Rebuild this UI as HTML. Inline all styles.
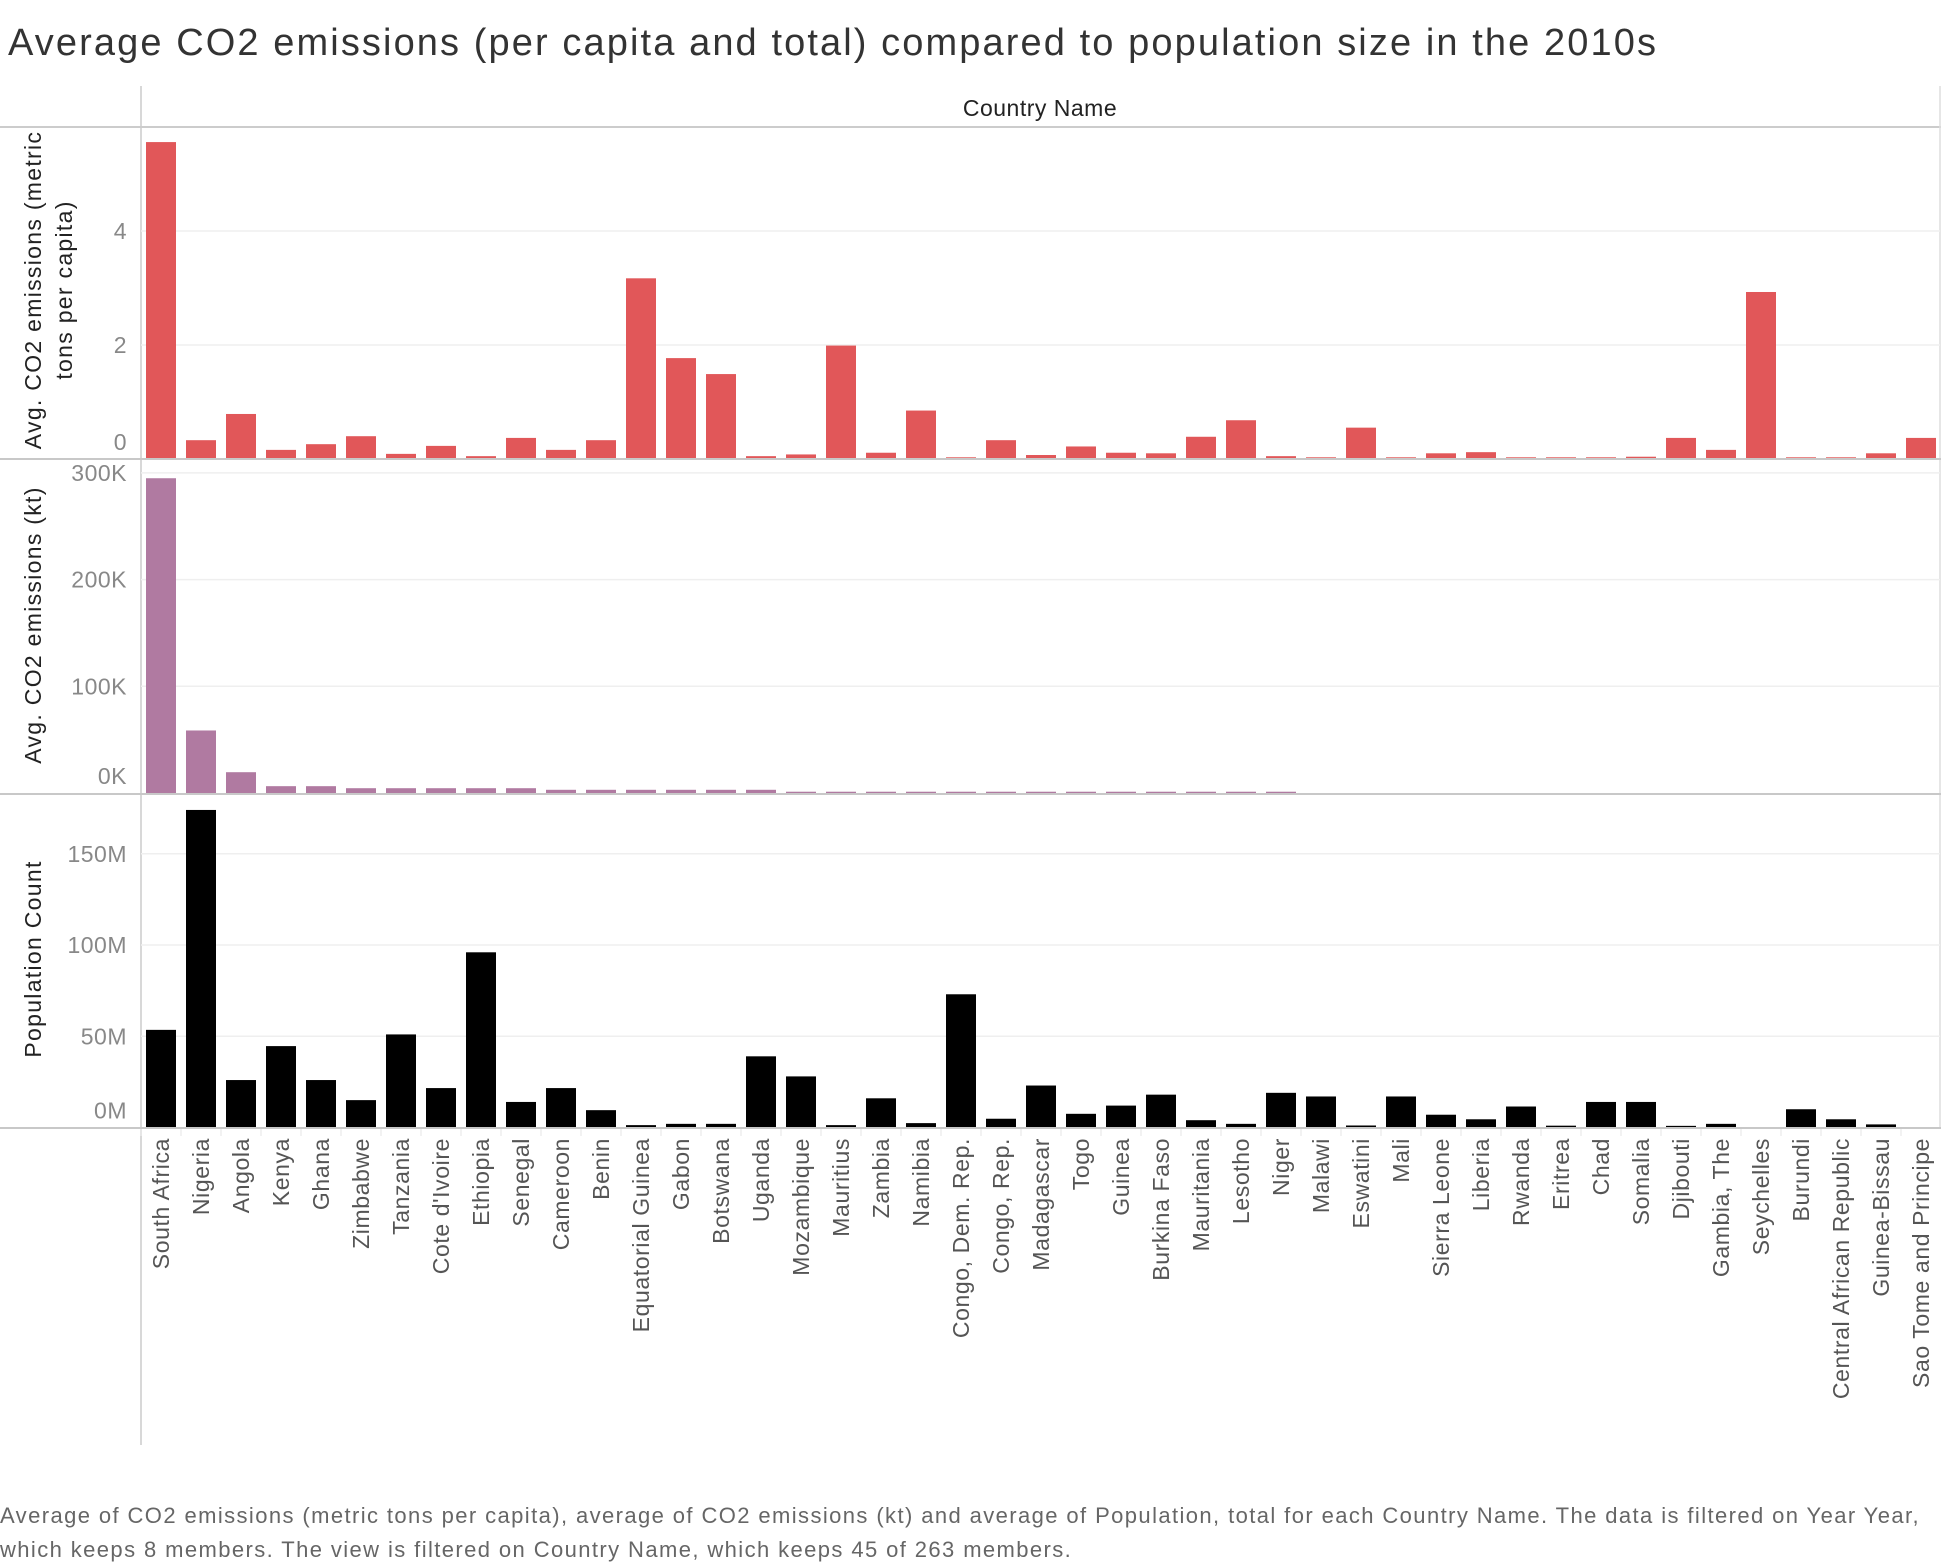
<!DOCTYPE html>
<html><head><meta charset="utf-8"><style>
html,body{margin:0;padding:0;background:#fff;width:1944px;height:1568px;overflow:hidden}
svg{display:block;font-family:"Liberation Sans",sans-serif}
</style></head><body>
<svg id="chart" width="1944" height="1568" viewBox="0 0 1944 1568">
<text x="8" y="55" font-size="38" letter-spacing="2.1" fill="#333">Average CO2 emissions (per capita and total) compared to population size in the 2010s</text>
<text x="1040" y="116" font-size="23" letter-spacing="0.5" fill="#222" text-anchor="middle">Country Name</text>
<line x1="141" y1="86" x2="141" y2="1445" stroke="#ccc" stroke-width="1.5"/>
<line x1="0" y1="127" x2="1941" y2="127" stroke="#ccc" stroke-width="2"/>
<line x1="1940" y1="86" x2="1940" y2="1128" stroke="#ddd" stroke-width="1.5"/>
<g id="grid"></g><g id="bars"></g><g id="axes"></g><g id="labels"></g>
<line x1="0" y1="459" x2="1941" y2="459" stroke="#c8c8c8" stroke-width="2"/>
<line x1="0" y1="794" x2="1941" y2="794" stroke="#c8c8c8" stroke-width="2"/>
<line x1="0" y1="1128" x2="1941" y2="1128" stroke="#c8c8c8" stroke-width="2"/>
<text transform="translate(41,290) rotate(-90)" font-size="23" letter-spacing="1.3" fill="#222" text-anchor="middle">Avg. CO2 emissions (metric</text>
<text transform="translate(72,290) rotate(-90)" font-size="23" letter-spacing="1.3" fill="#222" text-anchor="middle">tons per capita)</text>
<text transform="translate(41,625) rotate(-90)" font-size="23" letter-spacing="1.3" fill="#222" text-anchor="middle">Avg. CO2 emissions (kt)</text>
<text transform="translate(41,959) rotate(-90)" font-size="23" letter-spacing="1.3" fill="#222" text-anchor="middle">Population Count</text>
<text x="0" y="1523" font-size="22" letter-spacing="1.4" fill="#666">Average of CO2 emissions (metric tons per capita), average of CO2 emissions (kt) and average of Population, total for each Country Name. The data is filtered on Year Year,</text>
<text x="0" y="1557" font-size="22" letter-spacing="1.4" fill="#666">which keeps 8 members. The view is filtered on Country Name, which keeps 45 of 263 members.</text>
</svg>
<script>
const countries=["South Africa","Nigeria","Angola","Kenya","Ghana","Zimbabwe","Tanzania","Cote d'Ivoire","Ethiopia","Senegal","Cameroon","Benin","Equatorial Guinea","Gabon","Botswana","Uganda","Mozambique","Mauritius","Zambia","Namibia","Congo, Dem. Rep.","Congo, Rep.","Madagascar","Togo","Guinea","Burkina Faso","Mauritania","Lesotho","Niger","Malawi","Eswatini","Mali","Sierra Leone","Liberia","Rwanda","Eritrea","Chad","Somalia","Djibouti","Gambia, The","Seychelles","Burundi","Central African Republic","Guinea-Bissau","Sao Tome and Principe"];
const perCapita=[5.56,0.33,0.79,0.16,0.26,0.40,0.09,0.23,0.05,0.37,0.16,0.33,3.17,1.77,1.49,0.05,0.08,1.99,0.11,0.85,0.03,0.33,0.07,0.22,0.11,0.10,0.39,0.68,0.05,0.03,0.55,0.03,0.10,0.12,0.03,0.03,0.03,0.04,0.37,0.16,2.93,0.03,0.03,0.10,0.37];
const totalKt=[295,58.6,19.5,6.4,6.4,4.5,4.5,4.5,4.5,4.5,3,3,3,3,3,3,1.2,1.2,1.2,1.2,1.2,1.2,1.2,1.2,1.2,1.2,1.2,1.2,1.2,0,0,0,0,0,0,0,0,0,0,0,0,0,0,0,0];
const population=[53.5,174,26,44.6,26,15,51,21.6,96,14,21.6,9.5,1.3,2,2,39,28,1.3,16,2.4,73,4.8,23,7.5,12,18,4,2,19,17,1.1,17,7,4.5,11.5,1,14,14,0.9,2,0.1,10,4.5,1.7,0.2];
const ticks1=[0,2,4], tickLabels1=["0","2","4"];
const ticks2=[0,100,200,300], tickLabels2=["0K","100K","200K","300K"];
const ticks3=[0,50,100,150], tickLabels3=["0M","50M","100M","150M"];

const NS="http://www.w3.org/2000/svg";
function mk(tag,attrs,parent,text){const e=document.createElementNS(NS,tag);for(const k in attrs)e.setAttribute(k,attrs[k]);if(text!==undefined)e.textContent=text;parent.appendChild(e);return e;}
const xBand=i=>146+i*40;
const BW=30;
const panels=[
 {vals:perCapita,ticks:ticks1,labs:tickLabels1,base:459,scale:57,color:"#e15759",name:"per-capita"},
 {vals:totalKt,ticks:ticks2,labs:tickLabels2,base:793,scale:1.067,color:"#b07aa1",name:"total-kt"},
 {vals:population,ticks:ticks3,labs:tickLabels3,base:1127.5,scale:1.825,color:"#000",name:"population"}
];
const gG=document.getElementById('grid'),gB=document.getElementById('bars'),gA=document.getElementById('axes'),gL=document.getElementById('labels');
panels.forEach((p,pi)=>{
 const y=v=>p.base-v*p.scale;
 p.ticks.forEach((t,ti)=>{
  const ty=y(t);
  if(t!==0){const l=mk('line',{x1:141,x2:1940,y1:ty,y2:ty,stroke:'#efefef','stroke-width':1.5},gG);
   
   }
  const tl=mk('text',{x:127,y:(t===0?ty-9:ty+8),'font-size':23,'letter-spacing':0.5,fill:'#888','text-anchor':'end'},gA,p.labs[ti]);
  
  
 });
 p.vals.forEach((v,i)=>{
  const r=mk('rect',{x:xBand(i),y:y(v),width:BW,height:Math.max(0,v*p.scale),fill:p.color},gB);
  
  
 });
});
countries.forEach((c,i)=>{
 const cx=xBand(i)+BW/2+8;
 const t=mk('text',{transform:'translate('+cx+',1138) rotate(-90)','font-size':23,'letter-spacing':0.6,fill:'#555','text-anchor':'end'},gL,c);
 
 
 const tk=mk('line',{x1:xBand(i)-5,x2:xBand(i)-5,y1:1129,y2:1136,stroke:'#e6e6e6','stroke-width':1},gA);
 
 
});
</script>
</body></html>
